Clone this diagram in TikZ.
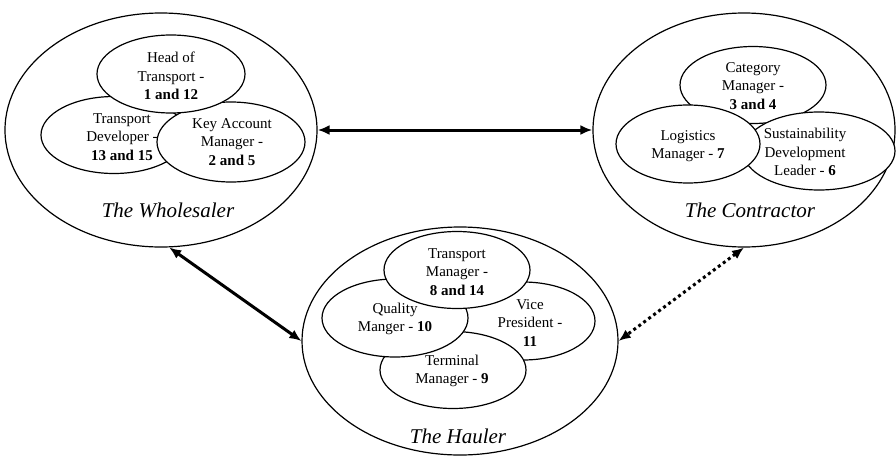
\documentclass[tikz,border=0pt]{standalone}
\usepackage{fontspec}
\setmainfont{Liberation Serif}
\usetikzlibrary{shapes.geometric,arrows.meta}

\begin{document}
\begin{tikzpicture}[x=1pt,y=-1pt]
       \tikzstyle{group}=[ellipse, draw, line width=1.2pt, fill=white, inner sep=0pt]
       \tikzstyle{role}=[ellipse, draw, line width=1.2pt, fill=white, inner sep=0pt, minimum width=146pt, minimum height=77pt]
       \tikzstyle{roletext}=[align=center, inner sep=0pt, font=\fontsize{15}{18.5}\selectfont]
       \tikzstyle{grouptext}=[inner sep=0pt, font=\fontsize{21}{25}\selectfont\itshape]
       \tikzstyle{link}=[line width=3pt, {Latex[length=12pt,width=10pt]}-{Latex[length=12pt,width=10pt]}]
       \useasboundingbox (0,0) rectangle (896,455);

       % the wholesaler
       \node[group, minimum width=312pt, minimum height=234pt] (whs) at (161,130) {};
       \node[role] (tdev) at (114,135) {};
       \node[role, minimum width=148pt, minimum height=80pt] (kam) at (231,142) {};
       \node[role, minimum width=148pt, minimum height=78pt] (hot) at (171,74) {};
       \node[roletext] (tdevtxt) at (122,137) {Transport\\Developer -\\\textbf{13 and 15}};
       \node[roletext] (kamtxt) at (232,142) {Key Account\\Manager -\\\textbf{2 and 5}};
       \node[roletext] (hottxt) at (171,76) {Head of\\Transport -\\\textbf{1 and 12}};
       \node[grouptext] (whstxt) at (168,210) {The Wholesaler};

       % the contractor
       \node[group, minimum width=302pt, minimum height=234pt] (con) at (744,130) {};
       \node[role] (catm) at (753,85) {};
       \node[role, minimum width=152pt, minimum height=78pt] (sdl) at (819,151) {};
       \node[role, minimum width=144pt, minimum height=78pt] (logm) at (688,144) {};
       \node[roletext] (catmtxt) at (753,86) {Category\\Manager -\\\textbf{3 and 4}};
       \node[roletext] (sdltxt) at (805,152) {Sustainability\\Development\\Leader - \textbf{6}};
       \node[roletext] (logmtxt) at (688,146) {Logistics\\Manager - \textbf{7}};
       \node[grouptext] (contxt) at (750,210) {The Contractor};

       % the hauler
       \node[group, minimum width=316pt, minimum height=228pt] (hau) at (460,341) {};
       \node[role, minimum width=144pt, minimum height=78pt] (vp) at (523,321) {};
       \node[role] (term) at (453,370) {};
       \node[role, minimum height=78pt] (qm) at (395,318) {};
       \node[role] (tm) at (457,270) {};
       \node[roletext] (vptxt) at (530,323) {Vice\\President -\\\textbf{11}};
       \node[roletext] (termtxt) at (452,371) {Terminal\\Manager - \textbf{9}};
       \node[roletext] (qmtxt) at (395,319) {Quality\\Manger - \textbf{10}};
       \node[roletext] (tmtxt) at (457,272) {Transport\\Manager -\\\textbf{8 and 14}};
       \node[grouptext] (hautxt) at (458,436) {The Hauler};

       % links
       \draw[link] (whs.east) -- (con.west);
       \draw[link] (whs.-86) -- (hau.west);
       \draw[link, dash pattern=on 3pt off 3.2pt] (con.south) -- (hau.east);
\end{tikzpicture}
\end{document}
